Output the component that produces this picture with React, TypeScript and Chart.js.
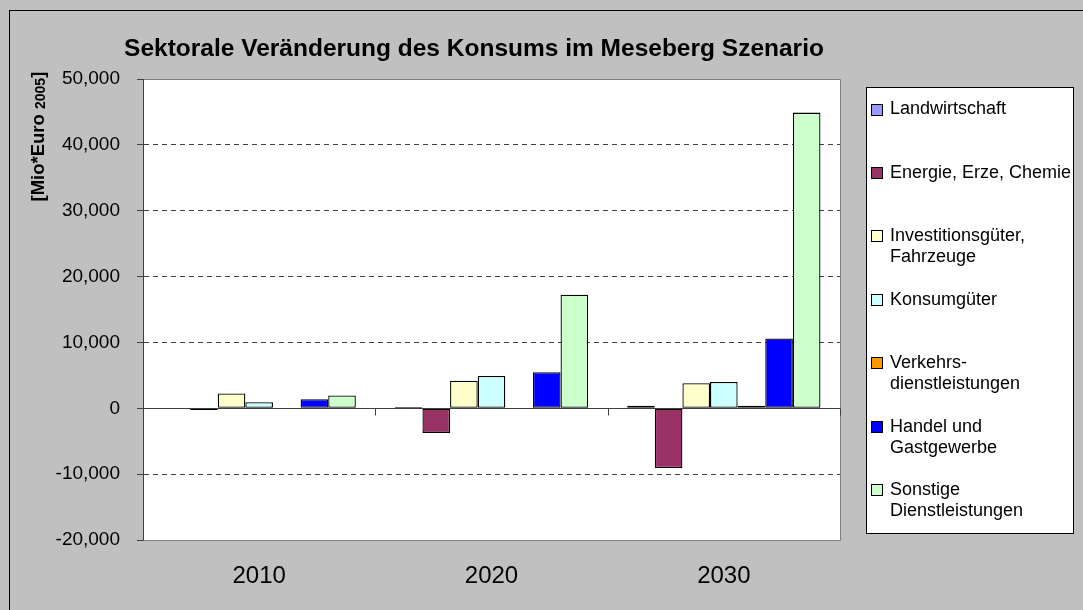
import React, { useEffect, useRef } from 'react';
import { Chart, registerables } from 'chart.js';

Chart.register(...registerables);

const categories = ['2010', '2020', '2030'];
const landwirtschaft = [0, 180, 400];
const energie = [-250, -3740, -9060];
const investitionsgueter = [2250, 4170, 3820];
const konsumgueter = [930, 4920, 4010];
const verkehr = [0, 0, 400];
const handel = [1380, 5490, 10610];
const sonstige = [1950, 17240, 44900];

const seriesNames = [
  'Landwirtschaft',
  'Energie, Erze, Chemie',
  'Investitionsgüter,\nFahrzeuge',
  'Konsumgüter',
  'Verkehrs-\ndienstleistungen',
  'Handel und\nGastgewerbe',
  'Sonstige\nDienstleistungen',
];
const seriesValues = [landwirtschaft, energie, investitionsgueter, konsumgueter, verkehr, handel, sonstige];
const seriesColors = ['#9999FF', '#993366', '#FFFFCC', '#CCFFFF', '#FF9900', '#0000FF', '#CCFFCC'];

const yMin = -20000;
const yMax = 50000;
const yStep = 10000;

const titleText = 'Sektorale Veränderung des Konsums im Meseberg Szenario';
const yTitleMain = '[Mio*Euro ';
const yTitleSub = '2005';
const yTitleEnd = ']';

const FONT = '"Liberation Sans", Arial, Helvetica, sans-serif';

export default function App() {
  const ref = useRef<HTMLCanvasElement>(null);

  useEffect(() => {
    const canvas = ref.current!;
    const decor = {
      id: 'excelDecor',
      beforeDraw(chart: any) {
        const { ctx, width, height, chartArea: a } = chart;
        ctx.save();
        ctx.fillStyle = '#C0C0C0';
        ctx.fillRect(0, 0, width, height);
        ctx.strokeStyle = '#000';
        ctx.lineWidth = 1;
        ctx.strokeRect(9.5, 10.5, width + 20, height + 20);
        ctx.fillStyle = '#FFFFFF';
        ctx.fillRect(a.left, a.top, a.right - a.left, a.bottom - a.top);
        ctx.restore();
      },
      afterDatasetsDraw(chart: any) {
        const { ctx, chartArea: a, scales } = chart;
        const y = scales.y;
        const x = scales.x;
        ctx.save();
        ctx.lineWidth = 1;
        ctx.strokeStyle = '#808080';
        const t = Math.round(a.top) + 0.5;
        const b = Math.round(a.bottom) + 0.5;
        const r = Math.round(a.right) + 0.5;
        const l = Math.round(a.left) + 0.5;
        ctx.beginPath();
        ctx.moveTo(l, t);
        ctx.lineTo(r, t);
        ctx.lineTo(r, b);
        ctx.lineTo(l, b);
        ctx.stroke();
        const z = Math.round(y.getPixelForValue(0)) + 0.5;
        ctx.strokeStyle = '#404040';
        ctx.beginPath();
        ctx.moveTo(l, z);
        ctx.lineTo(r, z);
        ctx.stroke();
        const n = categories.length;
        const w = (x.right - x.left) / n;
        ctx.beginPath();
        for (let i = 1; i <= n; i++) {
          const px = Math.round(x.left + i * w) + 0.5;
          ctx.moveTo(px, z);
          ctx.lineTo(px, z + 7);
        }
        ctx.stroke();
        ctx.beginPath();
        ctx.moveTo(l, t - 0.5);
        ctx.lineTo(l, b);
        ctx.stroke();
        ctx.restore();
      },
      afterDraw(chart: any) {
        const { ctx } = chart;
        ctx.save();
        ctx.fillStyle = '#000';
        ctx.font = `bold 24.5px ${FONT}`;
        ctx.textAlign = 'center';
        ctx.textBaseline = 'alphabetic';
        ctx.fillText(titleText, 474, 55.5);

        ctx.save();
        ctx.translate(44, 201.5);
        ctx.rotate(-Math.PI / 2);
        ctx.textAlign = 'left';
        ctx.font = `bold 18.5px ${FONT}`;
        ctx.fillText(yTitleMain, 0, 0);
        let off = ctx.measureText(yTitleMain).width;
        ctx.font = `bold 14px ${FONT}`;
        ctx.fillText(yTitleSub, off, 1);
        off += ctx.measureText(yTitleSub).width;
        ctx.font = `bold 18.5px ${FONT}`;
        ctx.fillText(yTitleEnd, off, 0);
        ctx.restore();

        const lx = 866.5, ly = 87.5, lw = 207, lh = 446;
        ctx.fillStyle = '#FFFFFF';
        ctx.fillRect(lx, ly, lw, lh);
        ctx.strokeStyle = '#000';
        ctx.lineWidth = 1;
        ctx.strokeRect(lx, ly, lw, lh);
        ctx.font = `18px ${FONT}`;
        ctx.textAlign = 'left';
        ctx.textBaseline = 'middle';
        chart.data.datasets.forEach((ds: any, i: number) => {
          const cy = 109.5 + i * 63.45;
          ctx.fillStyle = ds.backgroundColor;
          ctx.fillRect(871.5, Math.round(cy) - 5.5, 11, 11);
          ctx.strokeStyle = '#000';
          ctx.strokeRect(871.5, Math.round(cy) - 5.5, 11, 11);
          ctx.fillStyle = '#000';
          const lines = String(ds.label).split('\n');
          lines.forEach((ln: string, k: number) => {
            ctx.fillText(ln, 890, cy + k * 21);
          });
        });
        ctx.restore();
      },
    };

    const chart = new Chart(canvas, {
      type: 'bar',
      data: {
        labels: categories,
        datasets: seriesNames.map((name, i) => ({
          label: name,
          data: seriesValues[i],
          backgroundColor: seriesColors[i],
          borderColor: '#000000',
          borderWidth: 1.3,
          borderSkipped: false,
          barPercentage: 1,
          categoryPercentage: 0.832,
        })),
      },
      options: {
        responsive: false,
        animation: false,
        devicePixelRatio: 1,
        layout: { padding: { top: 79, right: 243, bottom: 0, left: 0 } },
        plugins: {
          legend: { display: false },
          title: { display: false },
          tooltip: { enabled: false },
        },
        scales: {
          x: {
            grid: { display: false, drawTicks: false },
            border: { display: false },
            ticks: {
              color: '#000',
              font: { family: FONT, size: 24 },
              padding: 22,
            },
            afterFit(scale: any) {
              scale.height = 70;
            },
          },
          y: {
            min: yMin,
            max: yMax,
            grid: {
              color: (c: any) => {
                const v = c.tick ? c.tick.value : null;
                return v === yMax || v === yMin || v === 0 ? 'rgba(0,0,0,0)' : '#404040';
              },
              tickColor: '#404040',
              tickLength: 6,
              tickBorderDash: [],
              lineWidth: 1,
            },
            border: { display: true, color: '#404040', dash: [5, 4] },
            ticks: {
              stepSize: yStep,
              color: '#000',
              font: { family: FONT, size: 19 },
              padding: 17,
              callback: (v: any) => Number(v).toLocaleString('en-US'),
            },
            afterFit(scale: any) {
              scale.width = 143;
            },
          },
        },
      },
      plugins: [decor],
    } as any);

    return () => chart.destroy();
  }, []);

  return (
    <div style={{ position: 'fixed', left: 0, top: 0, width: 1083, height: 610 }}>
      <canvas ref={ref} width={1083} height={610} style={{ display: 'block' }} />
    </div>
  );
}
